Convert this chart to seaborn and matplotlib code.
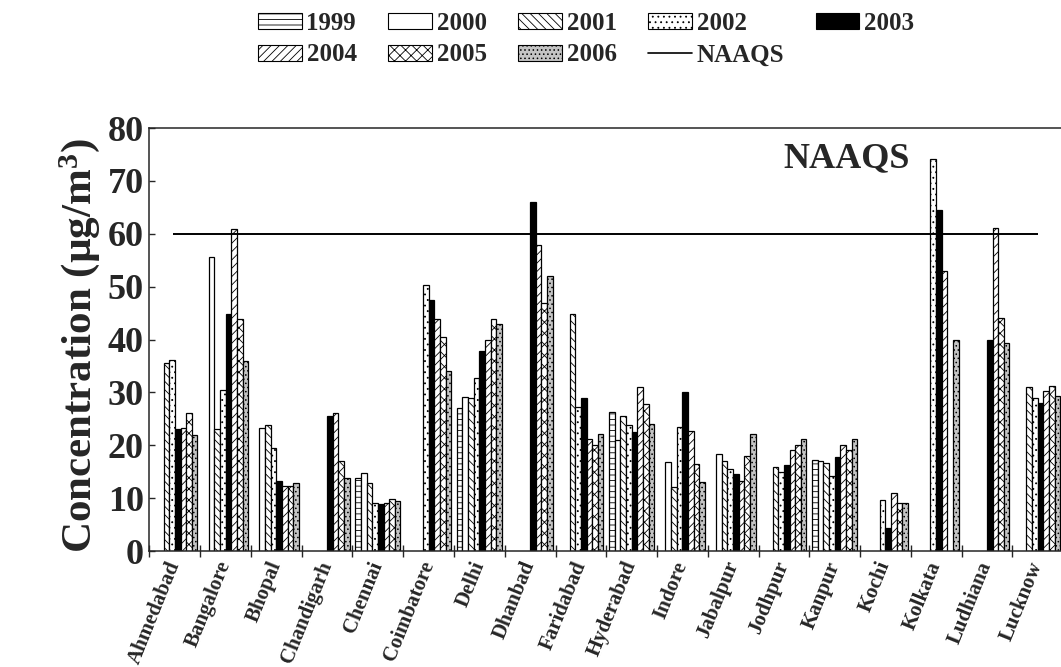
import numpy as np
import pandas as pd
import matplotlib
matplotlib.use('Agg')
import matplotlib.pyplot as plt
import seaborn as sns
from matplotlib.patches import Patch
from matplotlib.lines import Line2D

nan = np.nan

# Cidades e anos
cities = ['Ahmedabad', 'Bangalore', 'Bhopal', 'Chandigarh', 'Chennai', 'Coimbatore',
          'Delhi', 'Dhanbad', 'Faridabad', 'Hyderabad', 'Indore', 'Jabalpur',
          'Jodhpur', 'Kanpur', 'Kochi', 'Kolkata', 'Ludhiana', 'Lucknow']
years = ['1999', '2000', '2001', '2002', '2003', '2004', '2005', '2006']

# Concentrações (ug/m3)
y1999 = [nan, nan, nan, nan, 13.9, nan, 27.0, nan, nan, 26.3, nan, nan, nan, 17.2, nan, nan, nan, nan]
y2000 = [nan, 55.6, 23.3, nan, 14.7, nan, 29.2, nan, nan, 21.0, 16.8, 18.3, nan, 17.1, nan, nan, nan, nan]
y2001 = [35.6, 23.0, 23.8, nan, 12.8, nan, 28.9, nan, 44.8, 25.5, 12.2, 17.1, 15.9, 16.6, nan, nan, nan, 31.0]
y2002 = [36.1, 30.4, 19.5, nan, 9.0, 50.4, 32.8, nan, 27.2, 23.9, 23.4, 15.5, 14.9, 14.2, 9.6, 74.1, nan, 28.9]
y2003 = [23.0, 44.8, 13.3, 25.5, 8.8, 47.4, 37.8, 66.0, 28.9, 22.6, 30.1, 14.6, 16.3, 17.7, 4.3, 64.5, 40.0, 28.0]
y2004 = [23.3, 61.0, 12.3, 26.1, 9.0, 43.9, 39.9, 57.8, 21.1, 31.0, 22.7, 13.2, 19.1, 20.0, 10.9, 53.0, 61.2, 30.2]
y2005 = [26.1, 43.8, 12.3, 17.0, 9.8, 40.5, 43.9, 47.0, 20.0, 27.9, 16.4, 18.0, 20.0, 19.1, 9.1, nan, 44.0, 31.3]
y2006 = [22.0, 35.9, 12.9, 13.9, 9.5, 34.1, 43.0, 52.0, 22.1, 24.0, 13.1, 22.1, 21.2, 21.2, 9.1, 40.0, 39.3, 29.4]
naaqs = 60

series = [y1999, y2000, y2001, y2002, y2003, y2004, y2005, y2006]
rows = []
for yr, vals in zip(years, series):
    for c, v in zip(cities, vals):
        rows.append({'city': c, 'year': yr, 'value': v})
df = pd.DataFrame(rows).dropna()

# Estilo de cada ano: cor de fundo e hachura
faces = ['white', 'white', 'white', 'white', 'black', 'white', 'white', '#c4c4c4']
hatches = ['---', '', '\\\\\\\\', '...', '', '////', 'xxx', '....']

sns.set_style('ticks')
plt.rcParams['font.family'] = ['Liberation Serif', 'DejaVu Serif']
plt.rcParams['font.weight'] = 'bold'
plt.rcParams['hatch.linewidth'] = 0.6
plt.rcParams['mathtext.fontset'] = 'custom'
plt.rcParams['mathtext.rm'] = 'Liberation Serif:bold'
plt.rcParams['mathtext.it'] = 'Liberation Serif:bold'
plt.rcParams['mathtext.bf'] = 'Liberation Serif:bold'

fig = plt.figure(figsize=(10.61, 6.67), dpi=100)
ax = fig.add_axes([0.1409, 0.1739, 0.861, 0.634])

sns.barplot(data=df, x='city', y='value', hue='year', order=cities, hue_order=years,
            palette=dict(zip(years, faces)), width=0.89, errorbar=None,
            edgecolor='black', linewidth=0.9, legend=False, ax=ax)

for cont, h in zip(ax.containers, hatches):
    for bar in cont:
        bar.set_hatch(h)
        bar.set_edgecolor('black')

ax.hlines(naaqs, -0.04, 17.0, color='black', linewidth=1.4)
ax.text(13.24, 74.3, 'NAAQS', ha='center', va='center', fontsize=26, fontweight='bold')

ax.set_xlim(-0.5, 17.5)
ax.set_ylim(0, 80)
ax.set_yticks(np.arange(0, 81, 10))
ax.tick_params(axis='y', labelsize=26, direction='in', length=4, width=1, pad=4)
ax.set_xticks(range(len(cities)))
ax.set_xticklabels(cities, rotation=68, ha='right', va='center', rotation_mode='anchor', fontsize=15)
ax.tick_params(axis='x', which='major', length=0, pad=8)
ax.set_xticks(np.arange(-0.5, 17.6, 1), minor=True)
ax.tick_params(axis='x', which='minor', direction='inout', length=9, width=1)
ax.set_xlabel('')
ax.set_ylabel(r'Concentration (µg/m$^{3}$)', fontsize=31, fontweight='bold')
ax.yaxis.set_label_coords(-0.052, 0.485)
for s in ax.spines.values():
    s.set_linewidth(1.1)

handles = [Patch(facecolor=f, edgecolor='black', hatch=h, linewidth=0.8) for f, h in zip(faces, hatches)]
handles.append(Line2D([0], [0], color='black', linewidth=1.2))
labels = years + ['NAAQS']
order = [0, 5, 1, 6, 2, 7, 3, 8, 4]
fig.legend([handles[i] for i in order], [labels[i] for i in order],
           loc='center', bbox_to_anchor=(586 / 1061, 1 - 39 / 667), ncol=5, frameon=False,
           fontsize=18, handlelength=1.75, handleheight=0.6, handletextpad=0.2,
           columnspacing=1.25, labelspacing=0.35, borderpad=0.1)

fig.savefig('out.png', dpi=100)
